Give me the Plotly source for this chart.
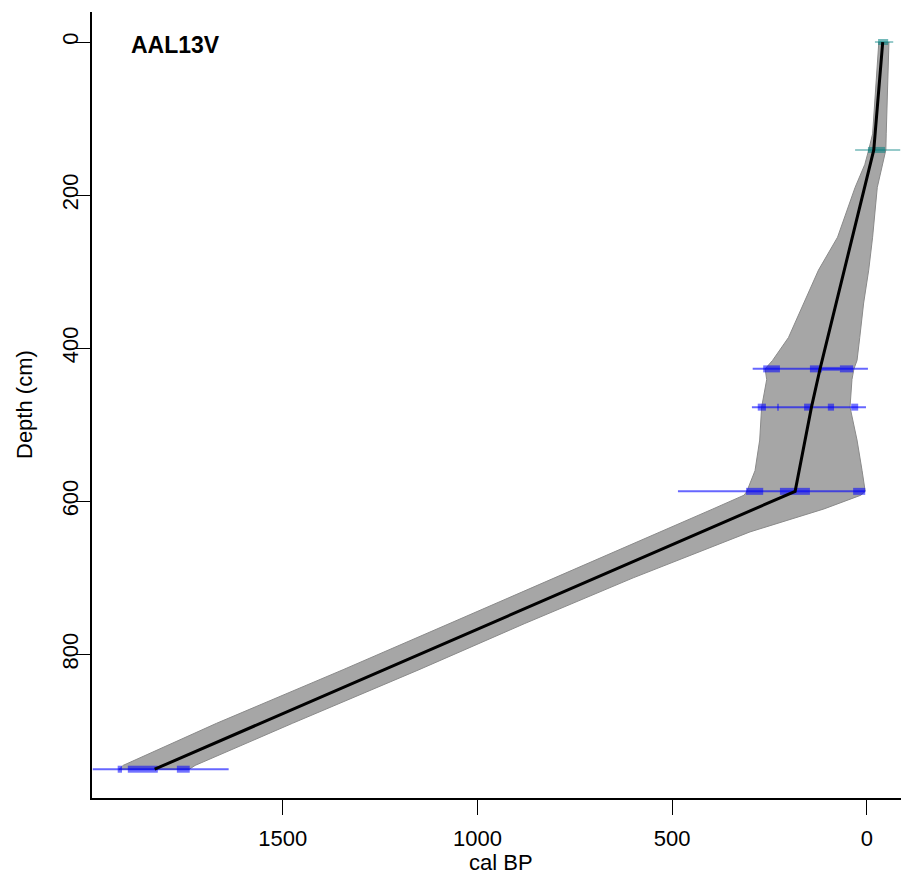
import plotly.graph_objects as go

# ---------------- data ----------------
core_name = "AAL13V"

# age-depth model (best fit)
model_depth = [0, 141, 427, 477, 587, 950]
model_age = [-41, -18, 120, 142, 184, 1829]

# 95% envelope
env_depth = [0, 60, 120, 141, 160, 190, 255, 298, 341, 386, 416, 427, 441, 477,
             520, 560, 587, 592, 610, 640, 700, 760, 820, 890, 945, 950]
env_old = [-31, -23, -15, -5, 5, 30, 75, 124, 162, 201, 242, 261, 257, 270,
           275, 287, 308, 315, 395, 530, 800, 1073, 1345, 1670, 1910, 1920]
env_young = [-57, -53, -50, -49, -40, -27, -15, -5, 8, 18, 25, 33, 38, 43,
             25, 12, 4, 15, 110, 300, 600, 880, 1150, 1475, 1725, 1740]

# calendar-age dates (teal)
cal_depth = [0, 141]
cal_min = [-68, -86]
cal_max = [-21, 30]
cal_blobs = [[(-55, -29)], [(-47, -3)]]

# radiocarbon dates (blue), calibrated ranges
c14_depth = [427, 477, 587, 950]
c14_min = [-3, 2, 4, 1639]
c14_max = [293, 295, 485, 1988]
c14_blobs = [
    [(223, 266), (115, 146), (35, 69)],
    [(259, 280), (226, 230), (141, 161), (84, 100), (22, 40)],
    [(266, 310), (146, 223), (4, 35)],
    [(1913, 1924), (1821, 1898), (1739, 1772)],
]
c14_mid = [(69, 115), None, None, None]

x_ticks = [0, 500, 1000, 1500]
y_ticks = [0, 200, 400, 600, 800]

# ---------------- figure ----------------
FONT = "Liberation Sans, Arial, sans-serif"
FS = 22
fig = go.Figure()

# envelope polygon
fig.add_trace(go.Scatter(
    x=env_old + env_young[::-1],
    y=env_depth + env_depth[::-1],
    fill="toself", fillcolor="#a6a6a6",
    line=dict(color="#8a8a8a", width=1),
    mode="lines", hoverinfo="skip", showlegend=False))


def seg_trace(depths, lo, hi, color, width):
    xs, ys = [], []
    for d, a, b in zip(depths, lo, hi):
        xs += [a, b, None]
        ys += [d, d, None]
    return go.Scatter(x=xs, y=ys, mode="lines",
                      line=dict(color=color, width=width),
                      hoverinfo="skip", showlegend=False)


# teal calendar dates
fig.add_trace(seg_trace(cal_depth, cal_min, cal_max, "rgba(0,128,128,0.55)", 1.5))
bd, bl, bh = [], [], []
for d, bl_list in zip(cal_depth, cal_blobs):
    for a, b in bl_list:
        bd.append(d); bl.append(a); bh.append(b)
fig.add_trace(seg_trace(bd, bl, bh, "rgba(0,128,128,0.55)", 6))

# blue radiocarbon dates
fig.add_trace(seg_trace(c14_depth, c14_min, c14_max, "rgba(0,0,255,0.6)", 2))
bd, bl, bh = [], [], []
for d, bl_list in zip(c14_depth, c14_blobs):
    for a, b in bl_list:
        bd.append(d); bl.append(a); bh.append(b)
fig.add_trace(seg_trace(bd, bl, bh, "rgba(0,0,255,0.55)", 7))
md, ml, mh = [], [], []
for d, m in zip(c14_depth, c14_mid):
    if m:
        md.append(d); ml.append(m[0]); mh.append(m[1])
fig.add_trace(seg_trace(md, ml, mh, "rgba(0,0,255,0.45)", 4))

# model line
fig.add_trace(go.Scatter(x=model_age, y=model_depth, mode="lines",
                         line=dict(color="black", width=3),
                         hoverinfo="skip", showlegend=False))

axis_common = dict(showgrid=False, zeroline=False, showline=True,
                   linecolor="black", linewidth=1.5, ticks="outside",
                   ticklen=15, tickwidth=1.3, tickcolor="black",
                   tickfont=dict(family=FONT, size=FS, color="black"))

fig.update_xaxes(range=[1990, -108.5], tickvals=x_ticks,
                 ticklabelstandoff=5, **axis_common)
fig.update_yaxes(range=[987.6, -39.2], tickvals=y_ticks, tickangle=-90,
                 ticklabelstandoff=-12, **axis_common)

fig.add_annotation(text="cal BP", xref="paper", yref="paper", x=0.5, y=0,
                   yanchor="middle", yshift=-64, showarrow=False,
                   font=dict(family=FONT, size=FS, color="black"))
fig.add_annotation(text="Depth (cm)", xref="paper", yref="paper", x=0, y=0.5,
                   xanchor="center", xshift=-68, textangle=-90, showarrow=False,
                   font=dict(family=FONT, size=FS, color="black"))
fig.add_annotation(text="<b>" + core_name + "</b>", xref="paper", yref="paper",
                   x=0, y=1, xanchor="left", yanchor="middle", xshift=37, yshift=-33,
                   showarrow=False,
                   font=dict(family=FONT, size=23, color="black"))

# page body has an 8px default margin, so the figure is offset by 8px
fig.update_layout(width=901, height=871, plot_bgcolor="white",
                  paper_bgcolor="white",
                  margin=dict(l=84, r=0, t=4, b=81))

fig.write_html("out.html")
